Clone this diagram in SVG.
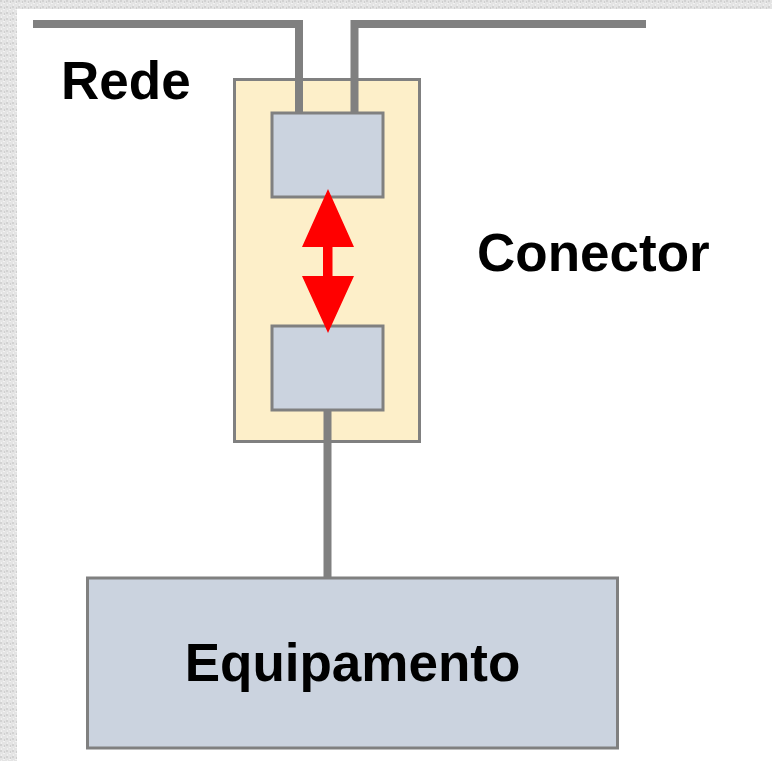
<svg xmlns="http://www.w3.org/2000/svg" width="772" height="761" viewBox="0 0 772 761">
  <defs>
    <pattern id="tex" width="6" height="6" patternUnits="userSpaceOnUse">
      <rect width="6" height="6" fill="#e4e4e4"/>
      <rect x="0" y="0" width="2" height="2" fill="#d2d2d2"/>
      <rect x="3" y="3" width="2" height="1" fill="#f2f2f2"/>
      <rect x="4" y="1" width="1" height="2" fill="#cfcfcf"/>
      <rect x="1" y="4" width="1" height="2" fill="#f0f0f0"/>
    </pattern>
  </defs>
  <style>
    .wire { fill: none; stroke: #808080; stroke-width: 8; }
    .box { fill: #cbd3df; stroke: #808080; stroke-width: 3; }
    .conn { fill: #fdefc9; stroke: #808080; stroke-width: 3; }
    .lbl { font-family: "Liberation Sans", Arial, sans-serif; font-weight: bold; font-size: 53px; fill: #000; }
  </style>
  <rect width="772" height="761" fill="url(#tex)"/>
  <rect x="17" y="9" width="755" height="752" fill="#ffffff"/>

  <g id="conector">
    <rect class="conn" x="234.5" y="79.5" width="185" height="362"/>
    <text class="lbl" x="477" y="271">Conector</text>
  </g>

  <g id="plug-top">
    <rect class="box" x="272" y="113" width="111" height="84"/>
  </g>
  <g id="plug-bottom">
    <rect class="box" x="272" y="326" width="111" height="84"/>
  </g>

  <g id="connectors">
    <polyline class="wire" points="33,24 299,24 299,112"/>
    <polyline class="wire" points="646,24 354.5,24 354.5,112"/>
    <line class="wire" x1="327.5" y1="411" x2="327.5" y2="577" stroke-width="9"/>
    <polygon fill="#ff0000" points="328,189 354,247 332.5,247 332.5,276 354,276 328,333 302,276 323,276 323,247 302,247"/>
  </g>

  <g id="rede">
    <text class="lbl" x="61" y="99">Rede</text>
  </g>

  <g id="equipamento">
    <rect class="box" x="87.5" y="578" width="530" height="170"/>
    <text class="lbl" x="352.5" y="681" text-anchor="middle">Equipamento</text>
  </g>
</svg>
